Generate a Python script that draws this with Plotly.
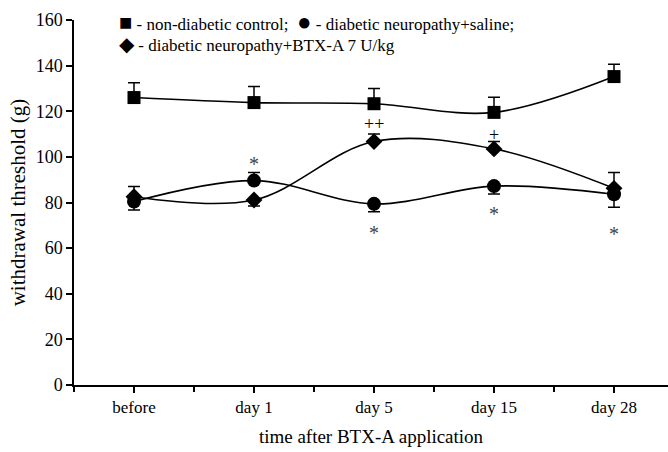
import plotly.graph_objects as go

categories = ["before", "day 1", "day 5", "day 15", "day 28"]

control = [126.0, 123.8, 123.3, 119.5, 135.2]
control_err_up = [6.5, 7.0, 6.7, 6.6, 5.4]
control_err_dn = [0, 0, 0, 0, 0]

saline = [80.4, 89.6, 79.4, 87.2, 83.6]
saline_err_up = [0, 3.6, 0, 0, 0]
saline_err_dn = [3.7, 0, 3.4, 3.5, 5.7]

btx = [82.5, 81.1, 106.7, 103.5, 86.2]
btx_err_up = [4.5, 0, 3.3, 3.2, 7.0]
btx_err_dn = [0, 2.6, 0, 0, 0]

sig_labels = ["*", "++", "*", "+", "*", "*"]
sig_x = [1, 2, 2, 3, 3, 4]
sig_y = [97.0, 114.5, 66.5, 109.5, 74.8, 66.2]

x = list(range(len(categories)))
FONT = "Liberation Serif, Times New Roman, serif"

fig = go.Figure()

def add_series(y, up, dn, symbol, size, name):
    fig.add_trace(go.Scatter(
        x=x, y=y, mode="lines+markers", name=name,
        line=dict(color="black", width=1.6, shape="spline", smoothing=1.0),
        marker=dict(symbol=symbol, size=size, color="black"),
        error_y=dict(type="data", symmetric=False, array=up, arrayminus=dn,
                     color="black", thickness=1.5, width=6),
        showlegend=False,
    ))

add_series(control, control_err_up, control_err_dn, "square", 13, "non-diabetic control")
add_series(saline, saline_err_up, saline_err_dn, "circle", 14, "diabetic neuropathy+saline")
add_series(btx, btx_err_up, btx_err_dn, "diamond", 13, "diabetic neuropathy+BTX-A 7 U/kg")

for lab, xv, yv in zip(sig_labels, sig_x, sig_y):
    is_star = lab == "*"
    fig.add_annotation(x=xv, y=yv, text=lab, showarrow=False,
                       font=dict(family=FONT, size=20 if is_star else 18,
                                 color="#444444" if is_star else "black"))

SQ = "<span style='font-size:22px'>■</span>"
CI = "<span style='font-size:24px'>●</span>"
DI = "<span style='font-size:20px'>◆</span>"

fig.add_annotation(xref="paper", yref="paper", x=0.072, y=0.995, xanchor="left", yanchor="middle",
                   text=SQ + " - non-diabetic control;  " + CI + " - diabetic neuropathy+saline;",
                   showarrow=False, font=dict(family=FONT, size=17, color="black"))
fig.add_annotation(xref="paper", yref="paper", x=0.072, y=0.935, xanchor="left", yanchor="middle",
                   text=DI + " - diabetic neuropathy+BTX-A 7 U/kg",
                   showarrow=False, font=dict(family=FONT, size=17, color="black"))

fig.update_layout(
    width=668, height=452,
    margin=dict(l=74, r=0, t=20, b=67),
    paper_bgcolor="white", plot_bgcolor="white",
    font=dict(family=FONT, size=18, color="black"),
    xaxis=dict(
        range=[-0.5, 4.45], tickvals=x, ticktext=categories,
        showgrid=False, zeroline=False, showline=True, linecolor="black", linewidth=1.5,
        ticks="outside", ticklen=6, tickcolor="black", tickwidth=1.5,
        minor=dict(tick0=0.5, dtick=1, ticks="outside", ticklen=5, tickcolor="black", tickwidth=1.5),
        title=dict(text="time after BTX-A application", standoff=14, font=dict(size=19)),
        tickfont=dict(size=17),
    ),
    yaxis=dict(
        range=[0, 160], dtick=20,
        showgrid=False, zeroline=False, showline=True, linecolor="black", linewidth=1.5,
        ticks="outside", ticklen=6, tickcolor="black", tickwidth=1.5,
        title=dict(text="withdrawal threshold (g)", standoff=4, font=dict(size=21)),
        tickfont=dict(size=18),
    ),
)

fig.write_html("out.html")
